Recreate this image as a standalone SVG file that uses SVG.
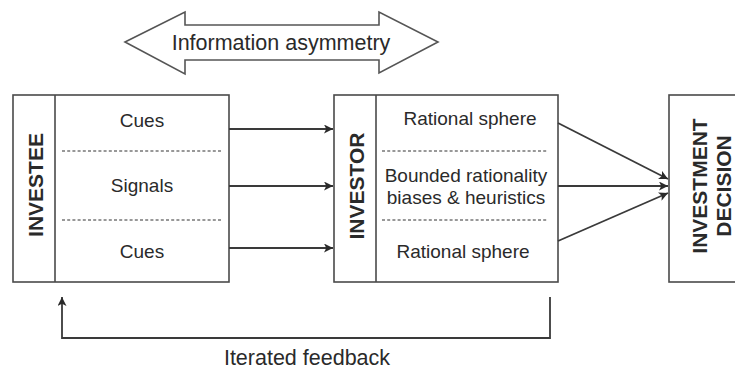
<svg xmlns="http://www.w3.org/2000/svg" width="735" height="372" viewBox="0 0 735 372">
<defs>
<style>
.box{fill:#fff;stroke:#4a4a4a;stroke-width:1.6}
.div{stroke:#4a4a4a;stroke-width:1.6}
.dash{stroke:#777;stroke-width:1.3;stroke-dasharray:3 2.2}
.t{font-family:"Liberation Sans",Arial,sans-serif;font-size:19px;fill:#2a2a2a;text-anchor:middle}
.lbl{font-family:"Liberation Sans",Arial,sans-serif;font-size:21.5px;fill:#2a2a2a;text-anchor:middle}
.v{font-family:"Liberation Sans",Arial,sans-serif;font-size:21px;font-weight:bold;fill:#2a2a2a;text-anchor:middle}
.c{stroke:#3a3a3a;stroke-width:1.8;fill:none}
</style>
<marker id="ah" viewBox="0 0 10 10" refX="10" refY="5" markerWidth="10" markerHeight="9" markerUnits="userSpaceOnUse" orient="auto">
<path d="M0,0 L10,5 L0,10 L2.5,5 z" fill="#2a2a2a"/>
</marker>
</defs>
<rect width="735" height="372" fill="#fff"/>

<g id="asymmetry">
<path d="M125,42 L185,12 L185,25 L379,25 L379,12 L438,42 L379,73 L379,60 L185,60 L185,74 Z" fill="#fff" stroke="#555" stroke-width="1.6" stroke-linejoin="miter"/>
<text class="lbl" x="281" y="50">Information asymmetry</text>
</g>

<g id="investee">
<rect class="box" x="13" y="95" width="216" height="187"/>
<line class="div" x1="55" y1="95" x2="55" y2="282"/>
<line class="dash" x1="62" y1="151" x2="223" y2="151"/>
<line class="dash" x1="62" y1="220" x2="223" y2="220"/>
<text class="v" transform="translate(43,185) rotate(-90)">INVESTEE</text>
<text class="t" x="142" y="127">Cues</text>
<text class="t" x="142" y="192">Signals</text>
<text class="t" x="142" y="258">Cues</text>
</g>

<g id="investor">
<rect class="box" x="334" y="95" width="224" height="187"/>
<line class="div" x1="376" y1="95" x2="376" y2="282"/>
<line class="dash" x1="382" y1="151" x2="548" y2="151"/>
<line class="dash" x1="382" y1="220" x2="548" y2="220"/>
<text class="v" transform="translate(364,186) rotate(-90)">INVESTOR</text>
<text class="t" x="470" y="125">Rational sphere</text>
<text class="t" x="466" y="182">Bounded rationality</text>
<text class="t" x="466" y="204">biases &amp; heuristics</text>
<text class="t" x="463" y="258">Rational sphere</text>
</g>

<g id="decision">
<rect class="box" x="669" y="95" width="80" height="187"/>
<text class="v" transform="translate(707,186) rotate(-90)">INVESTMENT</text>
<text class="v" transform="translate(731,186) rotate(-90)">DECISION</text>
</g>

<g id="connectors">
<line class="c" x1="229" y1="129" x2="333" y2="129" marker-end="url(#ah)"/>
<line class="c" x1="229" y1="186" x2="333" y2="186" marker-end="url(#ah)"/>
<line class="c" x1="229" y1="248" x2="333" y2="248" marker-end="url(#ah)"/>
<line class="c" x1="558" y1="123" x2="668" y2="179" marker-end="url(#ah)"/>
<line class="c" x1="558" y1="186" x2="668" y2="186" marker-end="url(#ah)"/>
<line class="c" x1="558" y1="241" x2="668" y2="193" marker-end="url(#ah)"/>
<polyline class="c" points="550,297 550,338 62,338 62,297" marker-end="url(#ah)"/>
<text class="lbl" x="307" y="365">Iterated feedback</text>
</g>
</svg>
